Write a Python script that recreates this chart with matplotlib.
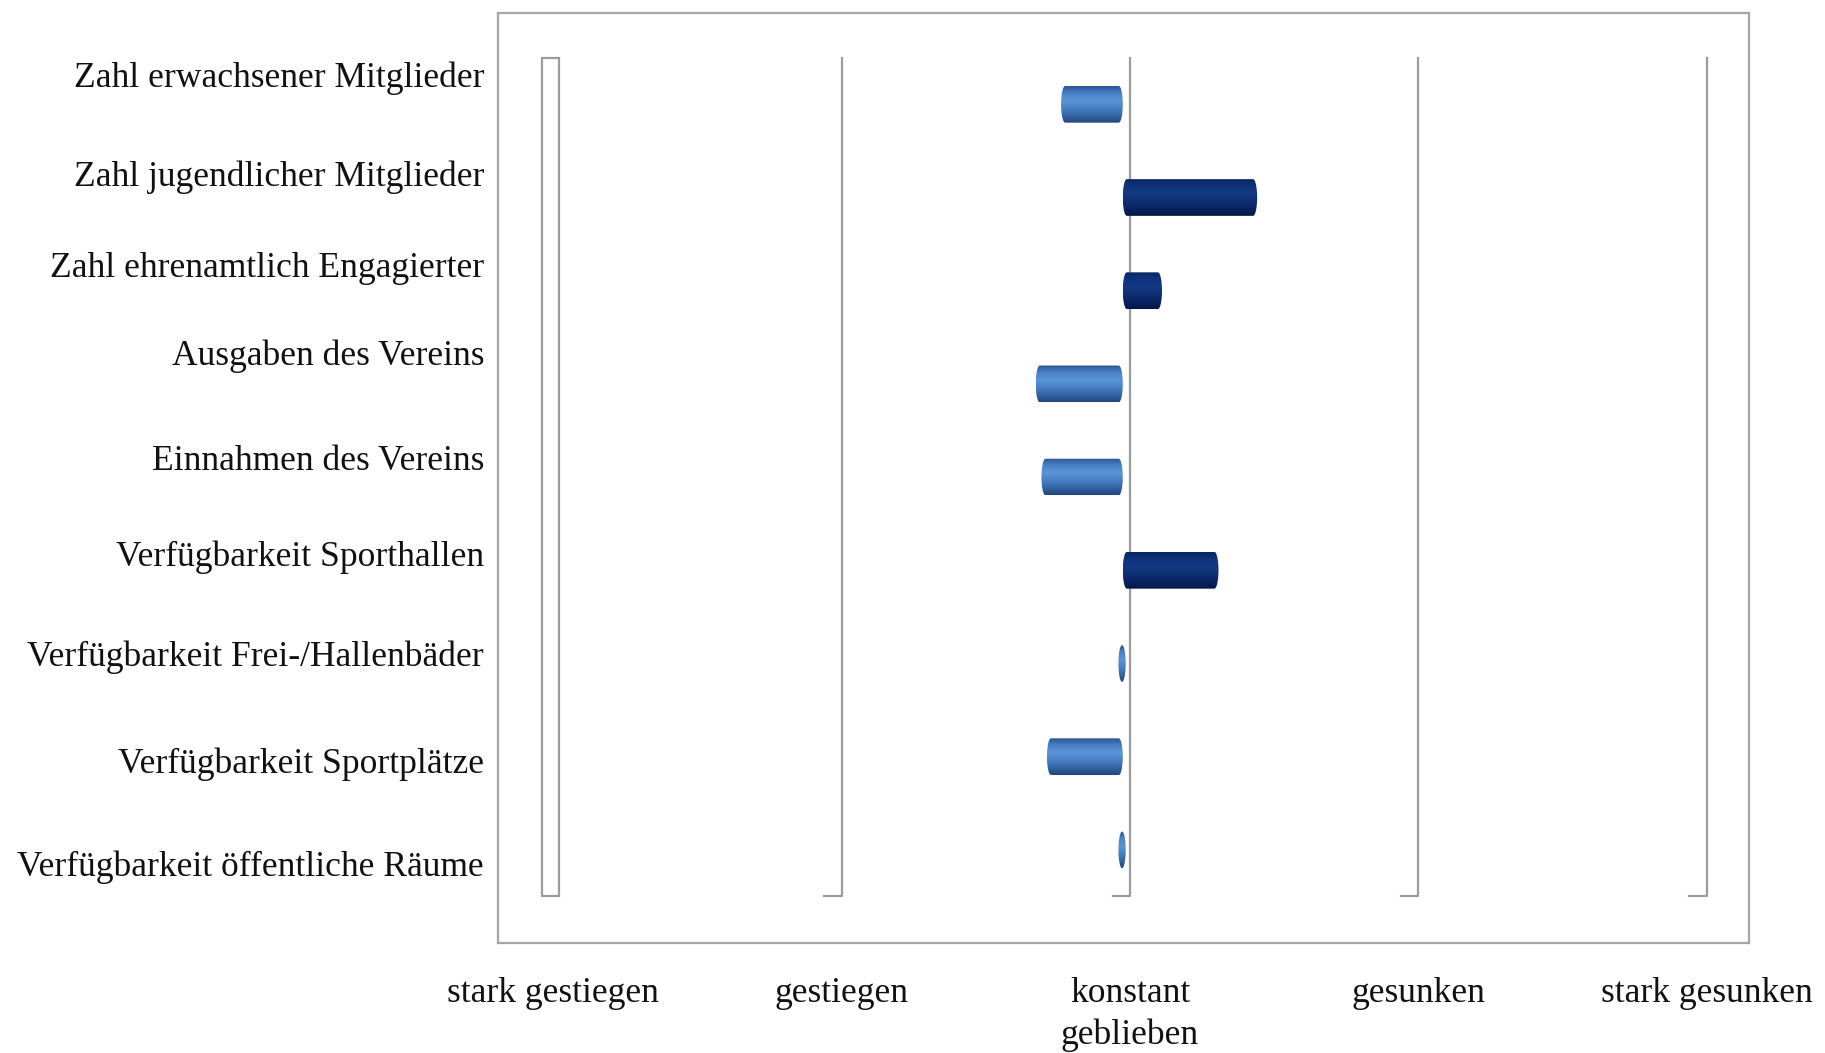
import numpy as np
import matplotlib
matplotlib.use("Agg")
import matplotlib.pyplot as plt
from matplotlib.patches import Polygon, Rectangle
from matplotlib.colors import LinearSegmentedColormap

# ---------------------------------------------------------------
# data
items = ["Zahl erwachsener Mitglieder",
         "Zahl jugendlicher Mitglieder",
         "Zahl ehrenamtlich Engagierter",
         "Ausgaben des Vereins",
         "Einnahmen des Vereins",
         "Verfügbarkeit Sporthallen",
         "Verfügbarkeit Frei-/Hallenbäder",
         "Verfügbarkeit Sportplätze",
         "Verfügbarkeit öffentliche Räume"]
# change relative to "konstant geblieben" (negative = gestiegen, positive = gesunken)
change = [-0.214, 0.466, 0.136, -0.302, -0.282, 0.332, -0.005, -0.263, -0.005]
scale_pos = [-2, -1, 0, 1, 2]
scale_labels = ["stark gestiegen", "gestiegen", "konstant\ngeblieben", "gesunken", "stark gesunken"]

# ---------------------------------------------------------------
W, H = 1825, 1053
FONT = "Liberation Serif"
FS = 25.6
plt.rcParams["font.family"] = [FONT, "DejaVu Serif"]

fig = plt.figure(figsize=(W / 100, H / 100), dpi=100)
ax = fig.add_axes([498 / W, 1 - 942.7 / H, (1749 - 498) / W, (942.7 - 12.5) / H])

light = LinearSegmentedColormap.from_list(
    "light", ["#2c5593", "#4a82c8", "#5a94d8", "#4a80c4", "#3566a6", "#23467c"])
dark = LinearSegmentedColormap.from_list(
    "dark", ["#0b2764", "#11337c", "#143984", "#0f2f74", "#0a2260", "#061849"])
grad = np.linspace(0, 1, 64).reshape(-1, 1)

base = -0.025    # 3d depth offset of the bars
hh = 0.197       # half bar height
rx = 0.014       # cap radius (x units)

for i, v in enumerate(change):
    x0, x1 = sorted([base, base + v])
    t = np.linspace(np.pi / 2, 3 * np.pi / 2, 30)
    if x1 - x0 < 2 * rx:
        xc = (x0 + x1) / 2
        tt = np.linspace(0, 2 * np.pi, 60)
        pts = np.column_stack([xc + rx * 0.9 * np.cos(tt), i + hh * np.sin(tt)])
        x0, x1 = xc - rx, xc + rx
    else:
        left = np.column_stack([x0 + rx + rx * np.cos(t), i + hh * np.sin(t)])
        right = np.column_stack([x1 - rx - rx * np.cos(t), i - hh * np.sin(t)])
        pts = np.vstack([left, right])
    poly = Polygon(pts, closed=True, facecolor="none", edgecolor="none")
    ax.add_patch(poly)
    cmap = dark if v > 0 else light
    im = ax.imshow(grad, cmap=cmap, aspect="auto", extent=[x0, x1, i + hh, i - hh],
                   interpolation="bilinear", zorder=3)
    im.set_clip_path(poly)

# gridlines with 3d foot
gcol = "#9c9c9c"
n = len(items)
for p in scale_pos:
    if p == scale_pos[0]:
        ax.add_patch(Rectangle((p - 0.04, -0.5), 0.06, n, facecolor="white",
                               edgecolor=gcol, lw=1.6, zorder=2))
    else:
        ax.plot([p - 0.06, p, p], [n - 0.5, n - 0.5, -0.5], color=gcol, lw=1.6, zorder=2)

ax.set_xlim(-2.192, 2.147)
ax.set_ylim(8.996, -0.985)
ax.set_yticks([])
ax.set_xticks(scale_pos, scale_labels, fontsize=FS, color="#111111")
for lab in ax.get_xticklabels():
    lab.set_linespacing(1.32)
ax.tick_params(axis="x", length=0, pad=25)
for s in ax.spines.values():
    s.set_color("#a6a6a6")
    s.set_linewidth(1.6)

# category labels (placed at their positions in the original layout)
label_base_px = [86.7, 186, 276.7, 365, 470, 566, 666, 772.7, 876]
for txt, yb in zip(items, label_base_px):
    fig.text(484 / W, 1 - yb / H, txt, ha="right", va="baseline",
             fontsize=FS, color="#111111")

fig.savefig("out.png", dpi=100)
